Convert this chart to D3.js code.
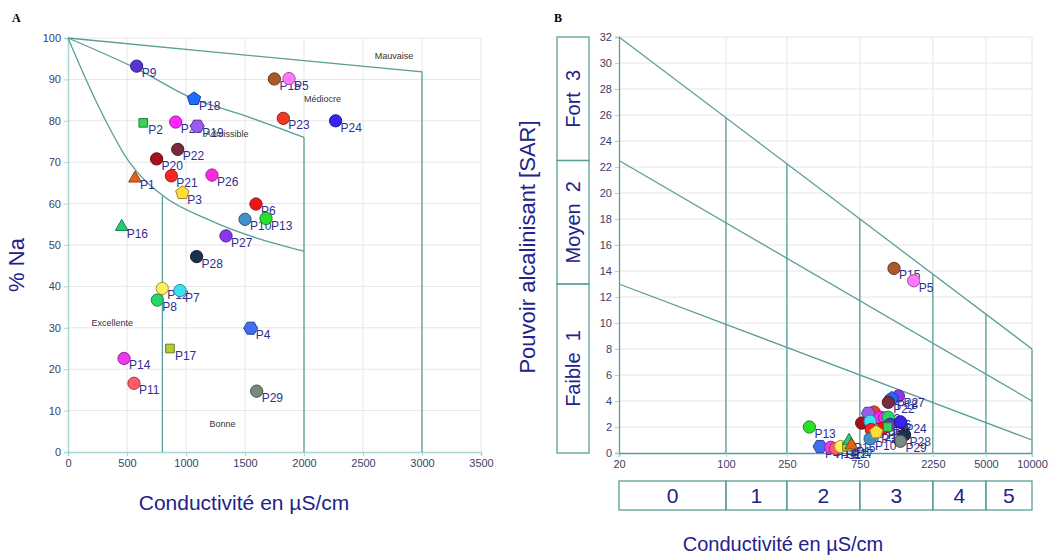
<!DOCTYPE html>
<html lang="fr">
<head>
<meta charset="UTF-8">
<title>Wilcox / Riverside</title>
<style>
  body { margin: 0; padding: 0; background: #fff; }
  svg { display: block; font-family: Arial, "Liberation Sans", sans-serif; }
  .grid line { stroke: #e6e6e6; }
  .tick text { fill: #3d3d6b; font-size: 11px; }
</style>
</head>
<body>
<div id="chart"></div>
<script src="https://cdn.jsdelivr.net/npm/d3@7"></script>
<script>
// ---- panel A data (Wilcox) ----
const namesA = ["P9","P18","P2","P25","P19","P22","P20","P26","P21","P1","P3","P6","P16","P10","P13",
                "P27","P28","P12","P7","P8","P4","P17","P14","P11","P29","P15","P5","P23","P24"];
const condA = [582,1068,638,913,1096,930,751,1220,876,568,969,1593,455,1500,1678,
               1339,1090,799,949,757,1548,864,475,559,1599,1749,1873,1825,2268];
const naA = [93.2,85.3,79.5,79.7,78.7,73.1,70.8,66.9,66.7,66.1,62.6,59.9,54.4,56.2,56.4,
             52.2,47.2,39.5,39,36.7,29.9,25,22.6,16.6,14.7,90.1,90.2,80.6,80];

// boundaries
const lineTop = [[0,100],[3000,91.8]];
const lineMid = [[0,100],[580,92.6],[1065,85.3],[1460,81.6],[2000,76]];
const lineLow = [[0,100],[250,84],[520,70],[800,62],[1200,56],[2000,48.5]];
const zonesA = [["Mauvaise",2600,95],["Médiocre",2000,84.5],["Admissible",1160,76],["Excellente",200,30.5],["Bonne",1200,6]];

// ---- panel B data (Riverside) ----
const namesB = ["P15","P5","P13","P4","P14","P11","P12","P17","P16","P1",
                "P27","P18","P22","P23","P19","P25","P26","P8","P20","P7",
                "P21","P6","P9","P2","P24","P28","P29","P10","P3"];
const condB = [1254,1686,351,412,483,520,562,618,637,660,
               1339,1211,1151,929,851,1016,1090,1150,771,875,
               890,1060,1180,1140,1380,1470,1380,875,960];
const sarB = [14.2,13.25,2.0,0.5,0.44,0.35,0.5,0.5,0.95,0.6,
              4.38,4.2,3.9,3.15,3.05,2.75,2.7,2.75,2.3,2.45,
              1.8,1.9,2.2,2.0,2.4,1.4,0.9,1.1,1.6];
const ticksB = [20,100,250,750,2250,5000,10000];
const classC = ["0","1","2","3","4","5"];
const classS = [["Faible  1",0,13],["Moyen  2",13,22.5],["Fort  3",22.5,32]];
const riskLines = [[32,8],[22.5,4],[13,1]];

// styles per sample
const style = {
  P1:["#e0651a","tri"], P2:["#3ccf5a","sq"], P3:["#ffdc3a","pent"], P4:["#3f6ef0","hex"],
  P5:["#ff7aff","c"], P6:["#ee1515","c"], P7:["#3ee0f0","c"], P8:["#25d66a","c"],
  P9:["#5a34d0","c"], P10:["#3f8fc8","c"], P11:["#ff5a68","c"], P12:["#ffee5a","c"],
  P13:["#28e028","c"], P14:["#ee38ee","c"], P15:["#a85a28","c"], P16:["#22cc77","tri"],
  P17:["#b0cc33","sq"], P18:["#1f6bff","pent"], P19:["#9a5cf0","hex"], P20:["#a80f1c","c"],
  P21:["#ff2424","c"], P22:["#7a2a3c","c"], P23:["#ef3b24","c"], P24:["#3a22ee","c"],
  P25:["#ff25ff","c"], P26:["#ff28e0","c"], P27:["#8a36ee","c"], P28:["#1c3050","c"],
  P29:["#788a80","c"]
};
const teal = "#5a9e98";
const navy = "#22228a";
const labelCol = "#2f2f90";

const W = 1049, H = 557;
const svg = d3.select("#chart").append("svg").attr("width", W).attr("height", H);

function polygon(n, r, rot) {
  const pts = d3.range(n).map(i => {
    const a = rot + i * 2 * Math.PI / n;
    return [r * Math.sin(a), -r * Math.cos(a)];
  });
  return "M" + pts.join("L") + "Z";
}
function markPath(shape) {
  if (shape === "tri") return d3.symbol().type(d3.symbolTriangle).size(70)();
  if (shape === "sq") return d3.symbol().type(d3.symbolSquare).size(75)();
  if (shape === "pent") return polygon(5, 7, 0);
  if (shape === "hex") return polygon(6, 7, Math.PI / 6);
  return d3.symbol().type(d3.symbolCircle).size(118)();
}
function drawPoints(g, names, xs, ys, x, y) {
  names.forEach((n, i) => {
    const [col, shape] = style[n];
    const px = x(xs[i]), py = y(ys[i]);
    g.append("path").attr("d", markPath(shape))
      .attr("transform", `translate(${px},${py})`)
      .attr("fill", col).attr("stroke", d3.color(col).darker(1.3)).attr("stroke-width", 1);
    g.append("text").attr("x", px + 5).attr("y", py + 11)
      .attr("fill", labelCol).attr("font-size", 12).text(n);
  });
}

// ================= Panel A =================
const xA = d3.scaleLinear([0, 3500], [68, 481]);
const yA = d3.scaleLinear([0, 100], [452, 38]);
const gA = svg.append("g");

gA.append("g").attr("class", "grid").selectAll("line").data(d3.range(500, 3501, 500)).join("line")
  .attr("x1", d => xA(d)).attr("x2", d => xA(d)).attr("y1", yA(0)).attr("y2", yA(100));
gA.append("g").attr("class", "grid").selectAll("line").data(d3.range(10, 101, 10)).join("line")
  .attr("x1", xA(0)).attr("x2", xA(3500)).attr("y1", d => yA(d)).attr("y2", d => yA(d));

const axA = gA.append("g").attr("transform", `translate(0,${yA(0)})`)
  .call(d3.axisBottom(xA).tickValues(d3.range(0, 3501, 500)).tickFormat(d3.format("d")).tickSize(4).tickPadding(3));
const ayA = gA.append("g").attr("transform", `translate(${xA(0)},0)`)
  .call(d3.axisLeft(yA).tickValues(d3.range(0, 101, 10)).tickSize(4).tickPadding(3));
[axA, ayA].forEach(a => { a.selectAll("path, line").attr("stroke", "#a9d6d4"); a.select(".domain").attr("stroke-width", 1.5); });

const lineA = d3.line().x(d => xA(d[0])).y(d => yA(d[1]));
const lineAc = d3.line().x(d => xA(d[0])).y(d => yA(d[1])).curve(d3.curveMonotoneX);
const bnd = gA.append("g").attr("fill", "none").attr("stroke", teal).attr("stroke-width", 1.3);
bnd.append("path").attr("d", lineA(lineTop.concat([[3000, 0]])));
bnd.append("path").attr("d", lineAc(lineMid));
bnd.append("path").attr("d", lineA([[2000, 76], [2000, 0]]));
bnd.append("path").attr("d", lineAc(lineLow));
bnd.append("path").attr("d", lineA([[800, 62], [800, 0]]));

gA.selectAll("text.zone").data(zonesA).join("text").attr("class", "zone")
  .attr("x", d => xA(d[1])).attr("y", d => yA(d[2])).attr("font-size", 9).attr("fill", "#333")
  .text(d => d[0]);

drawPoints(gA.append("g"), namesA, condA, naA, xA, yA);

gA.append("text").attr("transform", `translate(24,265) rotate(-90)`).attr("text-anchor", "middle")
  .attr("font-size", 22).attr("fill", navy).text("% Na");
gA.append("text").attr("x", 244).attr("y", 510).attr("text-anchor", "middle")
  .attr("font-size", 21).attr("fill", navy).text("Conductivité en µS/cm");
gA.append("text").attr("x", 12).attr("y", 22).attr("font-family", "Liberation Serif, serif")
  .attr("font-weight", "bold").attr("font-size", 12).text("A");

// ================= Panel B =================
const xB = d3.scaleLog([20, 10000], [619, 1032]);
const yB = d3.scaleLinear([0, 32], [453, 37]);
const gB = svg.append("g");

gB.append("g").attr("class", "grid").selectAll("line").data(ticksB.slice(1)).join("line")
  .attr("x1", d => xB(d)).attr("x2", d => xB(d)).attr("y1", yB(0)).attr("y2", yB(32));
gB.append("g").attr("class", "grid").selectAll("line").data(d3.range(2, 33, 2)).join("line")
  .attr("x1", xB(20)).attr("x2", xB(10000)).attr("y1", d => yB(d)).attr("y2", d => yB(d));

const axB = gB.append("g").attr("transform", `translate(0,${yB(0)})`)
  .call(d3.axisBottom(xB).tickValues(ticksB).tickFormat(d3.format("d")).tickSize(4).tickPadding(3));
const ayB = gB.append("g").attr("transform", `translate(${xB(20)},0)`)
  .call(d3.axisLeft(yB).tickValues(d3.range(0, 33, 2)).tickSize(4).tickPadding(3));
[axB, ayB].forEach(a => { a.selectAll("line").attr("stroke", "#a9d6d4"); a.select(".domain").attr("stroke", teal).attr("stroke-width", 1.3); });

// SAR risk lines, linear in log10(C)
const lx0 = Math.log10(20), lx1 = Math.log10(10000);
const sarAt = (l, c) => l[0] + (l[1] - l[0]) * (Math.log10(c) - lx0) / (lx1 - lx0);
const lineB = d3.line().x(d => xB(d[0])).y(d => yB(d[1]));
const bB = gB.append("g").attr("fill", "none").attr("stroke", teal).attr("stroke-width", 1.3);
riskLines.forEach(l => bB.append("path").attr("d", lineB([[20, l[0]], [10000, l[1]]])));
ticksB.slice(1).forEach(c => bB.append("path").attr("d", lineB([[c, 0], [c, sarAt(riskLines[0], c)]])));

// side boxes (SAR classes)
const boxB = gB.append("g");
classS.forEach(s => {
  boxB.append("rect").attr("x", 557).attr("width", 32).attr("y", yB(s[2])).attr("height", yB(s[1]) - yB(s[2]))
    .attr("fill", "none").attr("stroke", teal).attr("stroke-width", 1.3);
  boxB.append("text").attr("transform", `translate(580,${(yB(s[1]) + yB(s[2])) / 2}) rotate(-90)`)
    .attr("text-anchor", "middle").attr("font-size", 20).attr("fill", navy)
    .style("white-space", "pre").attr("xml:space", "preserve").text(s[0]);
});
// bottom boxes (conductivity classes)
const edges = [20].concat(ticksB.slice(1));
classC.forEach((c, i) => {
  const x0 = xB(edges[i]), x1 = xB(edges[i + 1]);
  boxB.append("rect").attr("x", x0).attr("width", x1 - x0).attr("y", 481).attr("height", 29)
    .attr("fill", "none").attr("stroke", teal).attr("stroke-width", 1.3);
  boxB.append("text").attr("x", (x0 + x1) / 2).attr("y", 503).attr("text-anchor", "middle")
    .attr("font-size", 21).attr("fill", navy).text(c);
});

drawPoints(gB.append("g"), namesB, condB, sarB, xB, yB);

gB.append("text").attr("transform", `translate(535,247) rotate(-90)`).attr("text-anchor", "middle")
  .attr("font-size", 22).attr("fill", navy).text("Pouvoir alcalinisant [SAR]");
gB.append("text").attr("x", 783).attr("y", 551).attr("text-anchor", "middle")
  .attr("font-size", 20).attr("fill", navy).text("Conductivité en µS/cm");
gB.append("text").attr("x", 554).attr("y", 22).attr("font-family", "Liberation Serif, serif")
  .attr("font-weight", "bold").attr("font-size", 12).text("B");
</script>
</body>
</html>
